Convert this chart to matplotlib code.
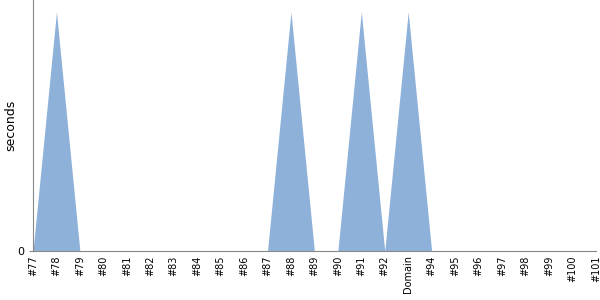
import matplotlib
matplotlib.use('Agg')
import matplotlib.pyplot as plt
import numpy as np

labels = ['#77', '#78', '#79', '#80', '#81', '#82', '#83', '#84', '#85', '#86',
          '#87', '#88', '#89', '#90', '#91', '#92', 'Domain', '#94', '#95', '#96',
          '#97', '#98', '#99', '#100', '#101']
seconds = [0, 1, 0, 0, 0, 0, 0, 0, 0, 0,
           0, 1, 0, 0, 1, 0, 1, 0, 0, 0,
           0, 0, 0, 0, 0]

x = np.arange(len(labels))

fig = plt.figure(figsize=(6, 3), dpi=100)
ax = fig.add_axes([0.055, 0.163, 0.938, 0.837])
ax.fill_between(x, seconds, color='#8eb1da', linewidth=0)

ax.set_xlim(0, len(labels) - 1)
ax.set_ylim(0, 1.05)
ax.set_xticks(x)
ax.set_xticklabels(labels, rotation=90, fontsize=7)
ax.set_yticks([0])
ax.tick_params(axis='y', labelsize=8, length=3, color='#888888')
ax.tick_params(axis='x', length=0, pad=3)
ax.set_ylabel('seconds', fontsize=9)
ax.yaxis.set_label_coords(-0.028, 0.5)
for s in ['top', 'right']:
    ax.spines[s].set_visible(False)
for s in ['left', 'bottom']:
    ax.spines[s].set_color('#888888')

fig.savefig('out.png', dpi=100)
